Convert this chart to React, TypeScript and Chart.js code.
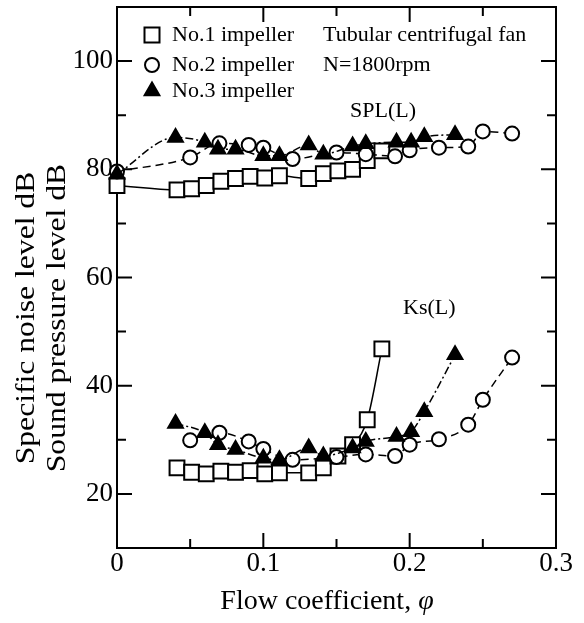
import React, { useEffect, useRef } from 'react';
import { Chart, registerables } from 'chart.js';

Chart.register(...registerables);

// ---- data ----
// No.1 impeller (squares)
const phi1 = [0.041, 0.051, 0.061, 0.071, 0.081, 0.091, 0.101, 0.111, 0.131, 0.141, 0.151, 0.161, 0.171, 0.181];
const splPhi1 = [0, 0.041, 0.051, 0.061, 0.071, 0.081, 0.091, 0.101, 0.111, 0.131, 0.141, 0.151, 0.161, 0.171, 0.181];
const spl1 = [77.0, 76.2, 76.4, 77.0, 77.8, 78.3, 78.7, 78.4, 78.8, 78.3, 79.2, 79.7, 80.0, 81.6, 83.4];
const ks1 = [24.8, 24.0, 23.7, 24.2, 24.0, 24.3, 23.7, 23.9, 23.9, 24.8, 27.0, 29.1, 33.7, 46.8];

// No.2 impeller (circles)
const phi2 = [0.05, 0.07, 0.09, 0.1, 0.12, 0.15, 0.17, 0.19, 0.2, 0.22, 0.24, 0.25, 0.27];
const splPhi2 = [0, 0.05, 0.07, 0.09, 0.1, 0.12, 0.15, 0.17, 0.19, 0.2, 0.22, 0.24, 0.25, 0.27];
const spl2 = [79.6, 82.2, 84.8, 84.5, 84.0, 81.9, 83.1, 82.8, 82.4, 83.5, 84.0, 84.2, 87.0, 86.6];
const ks2 = [29.9, 31.3, 29.7, 28.3, 26.3, 26.8, 27.3, 27.0, 29.1, 30.1, 32.8, 37.4, 45.2];

// No.3 impeller (triangles)
const phi3 = [0.04, 0.06, 0.069, 0.081, 0.1, 0.111, 0.131, 0.141, 0.161, 0.17, 0.191, 0.201, 0.21, 0.231];
const splPhi3 = [0, 0.04, 0.06, 0.069, 0.081, 0.1, 0.111, 0.131, 0.141, 0.161, 0.17, 0.191, 0.201, 0.21, 0.231];
const spl3 = [79.1, 85.9, 85.0, 83.7, 83.7, 82.5, 82.5, 84.5, 82.8, 84.3, 84.7, 85.0, 85.0, 86.0, 86.4];
const ks3 = [33.0, 31.3, 29.1, 28.2, 26.6, 26.3, 28.5, 27.0, 28.5, 29.7, 30.6, 31.5, 35.2, 45.7];

// ticks
const xTickLabels = [0, 0.1, 0.2, 0.3];
const xMinorTicks = [0.05, 0.15, 0.25];
const yTickLabels = [20, 40, 60, 80, 100];
const yMinorTicks = [30, 50, 70, 90];

const legendNames = ['No.1 impeller', 'No.2 impeller', 'No.3 impeller'];
const noteLines = ['Tubular centrifugal fan', 'N=1800rpm'];
const splLabel = 'SPL(L)';
const ksLabel = 'Ks(L)';
const xTitle = 'Flow coefficient, ';
const xTitleSymbol = 'φ';
const yTitleLines = ['Specific noise level dB', 'Sound pressure level dB'];

const SERIF = '"Liberation Serif", "Times New Roman", serif';

const zip = (xs: number[], ys: number[]) => xs.map((x, i) => ({ x, y: ys[i] }));

const styles = [
  { pointStyle: 'rect', pointRadius: 10.5, fill: '#fff', dash: [] as number[], order: 2 },
  { pointStyle: 'circle', pointRadius: 7, fill: '#fff', dash: [8, 5], order: 1 },
  { pointStyle: 'triangle', pointRadius: 8.5, fill: '#000', dash: [8, 3, 2, 3], order: 0 },
];

function makeDataset(label: string, data: { x: number; y: number }[], s: any) {
  return {
    label,
    data,
    showLine: true,
    borderColor: '#000',
    borderWidth: 1.5,
    borderDash: s.dash,
    backgroundColor: s.fill,
    pointStyle: s.pointStyle,
    pointRadius: s.pointRadius,
    pointBackgroundColor: s.fill,
    pointBorderColor: '#000',
    pointBorderWidth: 2,
    cubicInterpolationMode: 'monotone',
    clip: false,
    order: s.order,
  };
}

const decor = {
  id: 'decor',
  beforeDatasetsDraw(chart: any) {
    const { ctx, chartArea: a, scales } = chart;
    const xs = scales.x;
    const ys = scales.y;
    ctx.save();
    ctx.strokeStyle = '#000';
    ctx.lineWidth = 2;
    ctx.strokeRect(a.left, a.top, a.right - a.left, a.bottom - a.top);
    const major = 15;
    const minor = 9;
    const tickX = (v: number, len: number) => {
      const px = xs.getPixelForValue(v);
      ctx.beginPath();
      ctx.moveTo(px, a.bottom);
      ctx.lineTo(px, a.bottom - len);
      ctx.moveTo(px, a.top);
      ctx.lineTo(px, a.top + len);
      ctx.stroke();
    };
    const tickY = (v: number, len: number) => {
      const py = ys.getPixelForValue(v);
      ctx.beginPath();
      ctx.moveTo(a.left, py);
      ctx.lineTo(a.left + len, py);
      ctx.moveTo(a.right, py);
      ctx.lineTo(a.right - len, py);
      ctx.stroke();
    };
    xTickLabels.slice(1, -1).forEach((v) => tickX(v, major));
    xMinorTicks.forEach((v) => tickX(v, minor));
    yTickLabels.forEach((v) => tickY(v, major));
    yMinorTicks.forEach((v) => tickY(v, minor));
    ctx.restore();
  },
  afterDraw(chart: any) {
    const { ctx } = chart;
    ctx.save();
    ctx.fillStyle = '#000';
    ctx.strokeStyle = '#000';

    // legend markers
    const lx = 152;
    const rows = [35, 65, 91];
    ctx.lineWidth = 2;
    ctx.fillStyle = '#fff';
    ctx.fillRect(lx - 7.5, rows[0] - 7.5, 15, 15);
    ctx.strokeRect(lx - 7.5, rows[0] - 7.5, 15, 15);
    ctx.beginPath();
    ctx.arc(lx, rows[1], 7, 0, Math.PI * 2);
    ctx.fill();
    ctx.stroke();
    ctx.fillStyle = '#000';
    const r = 8.5;
    ctx.beginPath();
    ctx.moveTo(lx, rows[2] - r);
    ctx.lineTo(lx + r * Math.sin(Math.PI * 2 / 3), rows[2] - r * Math.cos(Math.PI * 2 / 3));
    ctx.lineTo(lx - r * Math.sin(Math.PI * 2 / 3), rows[2] - r * Math.cos(Math.PI * 2 / 3));
    ctx.closePath();
    ctx.fill();
    ctx.stroke();

    ctx.fillStyle = '#000';
    ctx.font = `22px ${SERIF}`;
    ctx.textBaseline = 'middle';
    ctx.textAlign = 'left';
    legendNames.forEach((t, i) => ctx.fillText(t, 172, rows[i]));
    ctx.fillText(noteLines[0], 323, rows[0]);
    ctx.fillText(noteLines[1], 323, rows[1]);
    ctx.fillText(splLabel, 350, 111);
    ctx.fillText(ksLabel, 403, 308);

    // x title
    ctx.font = `28px ${SERIF}`;
    ctx.textBaseline = 'alphabetic';
    const w1 = ctx.measureText(xTitle).width;
    ctx.font = `italic 28px ${SERIF}`;
    const w2 = ctx.measureText(xTitleSymbol).width;
    const start = 327 - (w1 + w2) / 2;
    ctx.font = `28px ${SERIF}`;
    ctx.fillText(xTitle, start, 609);
    ctx.font = `italic 28px ${SERIF}`;
    ctx.fillText(xTitleSymbol, start + w1, 609);

    // y titles
    ctx.font = `28px ${SERIF}`;
    ctx.textAlign = 'center';
    ctx.textBaseline = 'middle';
    const cy = 318;
    [27, 58].forEach((cx, i) => {
      ctx.save();
      ctx.translate(cx, cy);
      ctx.rotate(-Math.PI / 2);
      ctx.scale(1.13, 1);
      ctx.fillText(yTitleLines[i], 0, 0);
      ctx.restore();
    });
    ctx.restore();
  },
};

export default function App() {
  const ref = useRef<HTMLCanvasElement>(null);
  useEffect(() => {
    const canvas = ref.current;
    if (!canvas) return;
    const chart = new Chart(canvas, {
      type: 'scatter',
      data: {
        datasets: [
          makeDataset('No.1 SPL', zip(splPhi1, spl1), styles[0]),
          makeDataset('No.1 Ks', zip(phi1, ks1), styles[0]),
          makeDataset('No.2 SPL', zip(splPhi2, spl2), styles[1]),
          makeDataset('No.2 Ks', zip(phi2, ks2), styles[1]),
          makeDataset('No.3 SPL', zip(splPhi3, spl3), styles[2]),
          makeDataset('No.3 Ks', zip(phi3, ks3), styles[2]),
        ] as any,
      },
      options: {
        responsive: false,
        animation: false,
        events: [],
        layout: { autoPadding: false, padding: { left: 0, top: 7, right: 28, bottom: 0 } },
        plugins: { legend: { display: false }, tooltip: { enabled: false } },
        scales: {
          x: {
            type: 'linear',
            min: 0,
            max: 0.3,
            grid: { display: false, drawTicks: false },
            border: { display: false },
            afterBuildTicks: (s: any) => {
              s.ticks = xTickLabels.map((v) => ({ value: v }));
            },
            afterFit: (s: any) => {
              s.height = 75;
              s.paddingLeft = 0;
              s.paddingRight = 0;
              s.paddingTop = 0;
              s.paddingBottom = 0;
            },
            ticks: {
              color: '#000',
              padding: 0,
              maxRotation: 0,
              font: { family: SERIF, size: 27 },
              callback: (v: any) => String(v),
            },
          },
          y: {
            type: 'linear',
            min: 10,
            max: 110,
            grid: { display: false, drawTicks: false },
            border: { display: false },
            afterBuildTicks: (s: any) => {
              s.ticks = yTickLabels.map((v) => ({ value: v }));
            },
            afterFit: (s: any) => {
              s.width = 117;
              s.paddingLeft = 0;
              s.paddingRight = 0;
              s.paddingTop = 0;
              s.paddingBottom = 0;
            },
            ticks: {
              color: '#000',
              padding: 4,
              font: { family: SERIF, size: 27 },
              callback: (v: any) => String(v),
            },
          },
        },
      } as any,
      plugins: [decor],
    });
    return () => chart.destroy();
  }, []);
  return (
    <div style={{ position: 'absolute', left: 0, top: 0, width: 584, height: 623, background: '#fff' }}>
      <canvas ref={ref} width={584} height={623} style={{ display: 'block', width: 584, height: 623 }} />
    </div>
  );
}
